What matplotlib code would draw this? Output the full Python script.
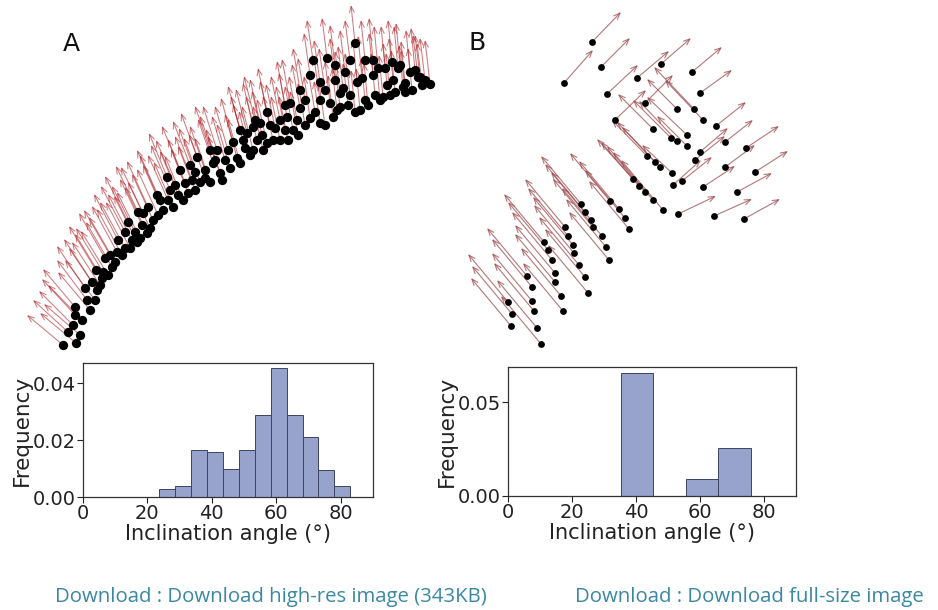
"""
Leaf inclination figure: 3D-style normal vectors (A, B) with
inclination-angle histograms underneath.
"""

import matplotlib
import matplotlib.pyplot as plt
import numpy as np

matplotlib.use("Agg")
matplotlib.rcParams["font.family"] = "DejaVu Sans"

# ---------------------------------------------------------------- data
# Panel A: point positions (projected, px-like units, y grows downward)
# and the projected normal vector drawn from each point
a_x = [63, 76, 68, 73, 75, 75, 90, 87, 85, 97, 92, 102, 103, 112, 105, 117,
       125, 118, 132, 125, 135, 137, 142, 147, 143, 148, 153, 163, 157, 173,
       170, 167, 180, 185, 188, 197, 200, 205, 210, 217, 220, 225, 230, 233,
       240, 247, 253, 260, 267, 253, 267, 280, 280, 287, 293, 300, 300, 305,
       313, 310, 320, 320, 320, 327, 330, 333, 340, 340, 343, 345, 355, 355,
       357, 360, 365, 373, 373, 375, 383, 385, 387, 393, 398, 400, 403, 405,
       410, 418, 420, 425, 430, 96, 110, 128, 138, 160, 178, 195, 213, 245,
       262, 275, 290, 310, 335, 350, 365, 395, 412,
       80, 82, 95, 100, 108, 115, 122, 130, 140, 150, 158, 168, 175, 183,
       192, 195, 205, 215, 222, 228, 237, 243, 250, 257, 263, 270, 273, 285,
       288, 297, 298, 305, 315, 325, 325, 337, 348, 350, 362, 368, 378, 380,
       390, 392, 405, 415, 422, 335, 285, 255, 240, 210, 190]
a_y = [345, 343, 332, 325, 315, 307, 310, 300, 288, 290, 282, 278, 272, 267,
       258, 252, 248, 240, 240, 232, 232, 242, 225, 233, 213, 207, 220, 210,
       195, 207, 190, 177, 170, 183, 193, 157, 182, 170, 182, 150, 173, 160,
       168, 142, 163, 133, 150, 123, 143, 127, 112, 140, 120, 117, 130, 108,
       90, 125, 60, 118, 100, 82, 123, 58, 103, 117, 93, 107, 88, 72, 43,
       112, 82, 110, 60, 75, 60, 95, 97, 68, 85, 80, 68, 65, 87, 83, 72, 77,
       77, 80, 84, 270, 255, 222, 212, 200, 195, 172, 163, 148, 135, 128, 103,
       75, 80, 95, 100, 92, 90,
       335, 320, 300, 285, 275, 262, 255, 248, 238, 228, 215, 200, 185, 200,
       180, 190, 178, 160, 180, 150, 158, 140, 155, 140, 150, 125, 140, 130,
       140, 120, 135, 100, 112, 90, 125, 110, 105, 60, 78, 105, 68, 100,
       95, 62, 92, 70, 85, 65, 105, 120, 130, 150, 165]
a_u = [-36, -36, -35, -34, -33, -32, -32, -30, -28, -28, -28, -27, -27, -26,
       -26, -25, -25, -24, -24, -24, -23, -23, -22, -22, -22, -21, -21, -20,
       -20, -19, -19, -18, -18, -17, -17, -16, -16, -15, -15, -14, -14, -13,
       -13, -12, -12, -11, -11, -10, -10, -10, -9, -9, -9, -8, -8, -8, -7,
       -7, -6, -6, -6, -6, -6, -5, -5, -5, -5, -5, -5, -5, -4, -4, -4, -4,
       -4, -4, -4, -4, -4, -4, -4, -4, -4, -4, -4, -4, -4, -5, -5, -5, -5,
       -27, -26, -23, -22, -20, -18, -16, -15, -12, -10, -9, -8, -6, -5, -5,
       -4, -4, -4,
       -36, -34, -30, -28, -27, -26, -25, -24, -23, -22, -21, -20, -19, -18,
       -17, -17, -16, -15, -14, -13, -12, -12, -11, -11, -10, -10, -10, -9,
       -9, -8, -8, -7, -7, -6, -6, -5, -5, -5, -4, -4, -4, -4,
       -4, -4, -4, -4, -5, -5, -8, -11, -12, -15, -17]
a_v = [-30, -30, -32, -34, -36, -38, -38, -40, -42, -42, -43, -44, -44, -45,
       -45, -46, -46, -46, -46, -46, -46, -46, -46, -46, -46, -46, -46, -45,
       -45, -45, -45, -44, -44, -44, -44, -44, -44, -44, -44, -44, -44, -44,
       -44, -44, -44, -44, -44, -44, -44, -44, -44, -44, -44, -44, -44, -44,
       -42, -42, -40, -42, -42, -42, -42, -40, -42, -42, -42, -42, -42, -42,
       -38, -42, -42, -42, -40, -42, -42, -42, -42, -42, -42, -42, -42, -42,
       -42, -42, -42, -42, -42, -42, -44, -44, -45, -46, -46, -45, -44, -44,
       -44, -44, -44, -44, -44, -42, -42, -42, -42, -42, -42,
       -31, -35, -40, -43, -44, -45, -46, -46, -46, -46, -46, -45, -45, -44,
       -44, -44, -44, -44, -44, -44, -44, -44, -44, -44, -44, -44, -44, -44,
       -44, -44, -44, -42, -42, -42, -42, -42, -42, -40, -42, -42, -42, -42,
       -42, -42, -42, -42, -42, -40, -44, -44, -44, -44, -44]

# Panel B: same idea, a much sparser grid of points
b_x = [564, 592, 601, 607, 637, 661, 692, 700, 716, 725, 746, 725, 755, 703,
       737, 678, 714, 744, 615, 645,
       653, 677, 671, 677, 687, 687, 695, 700, 694, 703, 647, 655, 660, 672,
       673, 682, 633, 639, 645, 653, 663,
       581, 585, 591, 593, 565, 568, 573, 574, 602, 606, 609, 610, 619, 625,
       629, 544, 548, 552, 555, 555, 579, 585, 588, 561, 563, 527, 532, 532,
       534, 537, 541, 508, 512, 511]
b_y = [83, 42, 67, 94, 78, 64, 72, 93, 126, 142, 148, 167, 172, 187, 192,
       214, 216, 219, 120, 103,
       129, 109, 138, 141, 135, 146, 160, 152, 109, 120, 156, 162, 167, 173,
       185, 181, 179, 186, 192, 200, 210,
       204, 212, 220, 227, 227, 236, 245, 253, 236, 247, 260, 201, 209, 218,
       229, 242, 250, 260, 273, 282, 265, 277, 293, 296, 311, 276, 287, 301,
       311, 328, 344, 302, 314, 326]
b_u = [29, 29, 29, 31, 32, 30, 30, 32, 30, 28, 33, 30, 33, 32, 35, 38, 38, 36,
       31, 28,
       -35, -30, -38, -38, -40, -30, 30, 28, -40, -38, -35, -38, -38, -30, 28,
       30, -36, -38, -38, -40, -42,
       -40, -40, -40, -40, -40, -40, -40, -40, -40, -40, -40, -40, -40, -40,
       -40, -40, -40, -40, -40, -40, -40, -40, -40, -40, -40, -40, -40, -40,
       -40, -40, -40, -40, -40, -40]
b_v = [-33, -30, -29, -29, -27, -26, -25, -23, -24, -22, -22, -22, -21, -21,
       -19, -18, -17, -20, -30, -28,
       -35, -30, -38, -40, -38, -30, -24, -24, -42, -40, -36, -40, -40, -28,
       -25, -24, -40, -44, -46, -48, -50,
       -48, -48, -48, -48, -48, -48, -48, -48, -48, -48, -48, -48, -48, -48,
       -48, -48, -48, -48, -48, -48, -48, -48, -48, -48, -48, -48, -48, -48,
       -48, -48, -48, -48, -48, -48]

# Inclination-angle histograms (density)
hist_a_edges = [23.7, 28.6, 33.6, 38.5, 43.5, 48.4, 53.3, 58.3, 63.2, 68.2,
                73.1, 78.0, 83.0]
hist_a_freq = [0.0029, 0.0038, 0.0165, 0.0159, 0.0100, 0.0165, 0.0288,
               0.0453, 0.0288, 0.0212, 0.0094, 0.0038]
hist_b_edges = [35.2, 45.35, 55.5, 65.65, 75.8]
hist_b_freq = [0.0657, 0.0, 0.0089, 0.0254]

xticks = [0, 20, 40, 60, 80]
yticks_a = [0.00, 0.02, 0.04]
yticks_b = [0.00, 0.05]

BAR_FACE = "#97a3cc"
BAR_EDGE = "#3d4460"
LINK_COLOR = "#3a88a2"

# ---------------------------------------------------------------- figure
fig = plt.figure(figsize=(9.38, 6.10), dpi=100)

# vector panels drawn on one overlay in projected px-like units
ov = fig.add_axes([0, 0, 1, 1])
ov.set_xlim(0, 938)
ov.set_ylim(610, 0)
ov.axis("off")


def draw_vectors(ax, xs, ys, us, vs, color, alpha, lw, dot_size):
    for x, y, u, v in zip(xs, ys, us, vs):
        ax.annotate(
            "",
            xy=(x + u, y + v),
            xytext=(x, y),
            arrowprops=dict(
                arrowstyle="->,head_length=0.45,head_width=0.18",
                color=color,
                alpha=alpha,
                lw=lw,
                shrinkA=0,
                shrinkB=0,
            ),
            zorder=2,
        )
    ax.scatter(xs, ys, s=dot_size, color="black", zorder=3, linewidths=0)


draw_vectors(ov, a_x, a_y, a_u, a_v, "#b02428", 0.6, 0.75, 45)
draw_vectors(ov, b_x, b_y, b_u, b_v, "#9c4a4c", 0.75, 0.8, 24)

ov.text(71, 44, "A", fontsize=18, ha="center", va="center", color="#111111")
ov.text(477, 43, "B", fontsize=18, ha="center", va="center", color="#111111")


def draw_hist(rect, edges, freq, yticks, ylim):
    ax = fig.add_axes(rect)
    edges = np.array(edges)
    ax.bar(edges[:-1], freq, width=np.diff(edges), align="edge",
           color=BAR_FACE, edgecolor=BAR_EDGE, linewidth=0.7)
    ax.set_xlim(0, 90)
    ax.set_ylim(0, ylim)
    ax.set_xticks(xticks)
    ax.set_yticks(yticks)
    ax.set_yticklabels([f"{t:.2f}" for t in yticks])
    ax.tick_params(labelsize=14, colors="#222222", length=4, width=0.8,
                   pad=1)
    for sp in ax.spines.values():
        sp.set_color("#333333")
        sp.set_linewidth(0.9)
    ax.set_xlabel("Inclination angle (°)", fontsize=15, color="#222222",
                  labelpad=1)
    ax.set_ylabel("Frequency", fontsize=15.5, color="#222222", labelpad=1)
    return ax


draw_hist([0.0885, 0.1852, 0.309, 0.2197], hist_a_edges, hist_a_freq,
          yticks_a, 0.0472)
draw_hist([0.5416, 0.1869, 0.307, 0.2120], hist_b_edges, hist_b_freq,
          yticks_b, 0.069)

# download links under the figure
fig.text(55 / 938, 1 - 597 / 610, "Download : Download high-res image (343KB)",
         fontsize=14.7, family="Open Sans", color=LINK_COLOR, va="center")
fig.text(575 / 938, 1 - 597 / 610, "Download : Download full-size image",
         fontsize=14.7, family="Open Sans", color=LINK_COLOR, va="center")

fig.savefig("out.png", dpi=100)
